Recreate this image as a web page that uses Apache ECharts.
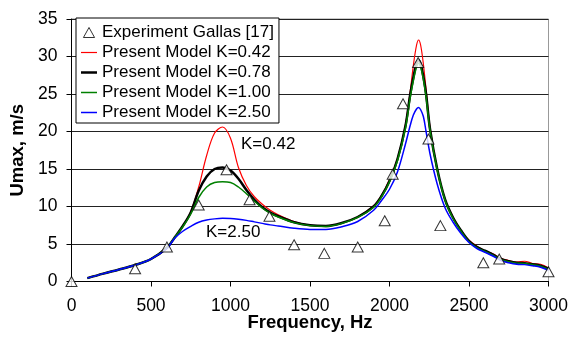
<!DOCTYPE html>
<html>
<head>
<meta charset="utf-8">
<script src="https://cdn.jsdelivr.net/npm/echarts@6/dist/echarts.min.js"></script>
<style>
  html, body { margin: 0; padding: 0; background: #fff; }
  #chart { width: 568px; height: 347px; }
</style>
</head>
<body>
<div id="chart"></div>
<script>
// Frequency grid (Hz) shared by the model curves
const freqHz = [100,200,300,400,500,600,650,700,750,800,850,900,950,1000,
  1050,1100,1150,1200,1250,1300,1400,1500,1600,1700,1800,1900,1950,2000,
  2050,2100,2130,2150,2170,2183,2196,2213,2230,2255,2300,2350,2400,2450,
  2500,2550,2600,2650,2700,2750,2800,2850,2900,2950,3000];

// Present model, Umax (m/s) for each K
const umaxK042 = [0.45,1.05,1.6,2.2,3.0,4.5,5.9,7.4,9.3,12.6,16.8,19.8,20.6,19.1,
  15.2,12.8,11.3,10.3,9.5,8.9,8.0,7.5,7.4,7.8,8.6,10.1,11.5,13.6,
  16.4,20.9,25.3,28.8,31.5,32.2,31.5,29.0,25.6,20.5,15.0,10.9,8.6,6.8,
  5.5,4.7,4.1,3.7,3.1,2.8,2.6,2.7,2.4,2.3,1.8];
const umaxK078 = [0.45,1.05,1.6,2.2,3.0,4.5,5.9,7.4,9.2,12.1,14.0,15.0,15.2,14.8,
  13.7,12.2,10.9,9.9,9.2,8.7,7.9,7.5,7.4,7.8,8.6,10.0,11.4,13.4,
  16.3,20.7,24.9,27.2,29.1,29.5,29.0,27.3,25.0,20.3,15.0,10.9,8.5,6.8,
  5.4,4.6,4.1,3.6,3.0,2.7,2.5,2.45,2.3,2.1,1.7];
const umaxK100 = [0.45,1.05,1.6,2.2,3.0,4.5,5.9,7.3,9.0,11.2,12.6,13.2,13.3,13.2,
  12.6,11.7,10.7,9.8,9.1,8.6,7.85,7.45,7.35,7.75,8.55,9.9,11.3,13.3,
  16.1,20.4,24.5,26.8,28.6,29.1,28.6,27.0,24.6,20.1,14.9,10.8,8.4,6.7,
  5.3,4.5,4.0,3.5,2.95,2.65,2.45,2.4,2.25,2.05,1.65];
const umaxK250 = [0.45,1.05,1.6,2.2,3.0,4.4,5.8,6.7,7.35,7.9,8.2,8.35,8.42,8.4,
  8.3,8.15,7.95,7.75,7.55,7.4,7.1,6.95,6.95,7.3,8.0,9.5,10.8,12.3,
  14.6,18.3,20.8,22.2,23.0,23.2,22.9,22.0,20.0,17.0,13.0,9.8,7.9,6.4,
  5.2,4.4,3.9,3.4,2.8,2.5,2.3,2.25,2.1,1.9,1.5];

// Experiment Gallas [17]
const expFreq = [0,400,600,800,975,1120,1245,1400,1590,1800,1970,2020,2085,2180,2245,2320,2590,2690,3000];
const expUmax = [0,1.7,4.6,10.2,14.9,10.9,8.7,4.9,3.75,4.6,8.1,14.3,23.7,29.2,19.0,7.45,2.5,3.0,1.3];

// Axis ticks
const xTicks = { min: 0, max: 3000, step: 500 };
const yTicks = { min: 0, max: 35, step: 5 };

const FONT = '"Liberation Sans", Arial, sans-serif';
const pairs = (xs, ys) => xs.map((x, i) => [x, ys[i]]);

// Flat bar used as the legend swatch of a model curve
const lineIcon = (h) => 'path://M0,0 L16,0 L16,' + h + ' L0,' + h + ' Z';

function modelSeries(name, values, color, width) {
  return {
    name: name,
    type: 'line',
    data: pairs(freqHz, values),
    smooth: 0.35,
    showSymbol: false,
    symbol: 'none',
    z: 2,
    lineStyle: { color: color, width: width },
    itemStyle: { color: color },
    emphasis: { disabled: true }
  };
}

const chart = echarts.init(document.getElementById('chart'), null, { renderer: 'canvas', devicePixelRatio: 1 });

chart.setOption({
  animation: false,
  backgroundColor: '#fff',
  textStyle: { fontFamily: FONT },
  grid: {
    left: 71.5, right: 19.5, top: 19, bottom: 65.5,
    containLabel: false,
    outerBoundsMode: 'none',
    show: true, borderColor: '#999', borderWidth: 1, backgroundColor: 'transparent'
  },
  legend: {
    orient: 'vertical',
    left: 76, top: 18,
    padding: [6, 5, 2, 5],
    itemWidth: 16, itemHeight: 10, itemGap: 3,
    backgroundColor: '#fff',
    borderColor: '#000', borderWidth: 1, borderRadius: 0,
    symbolKeepAspect: true,
    textStyle: { fontFamily: FONT, fontSize: 17, color: '#000' },
    data: [
      { name: 'Experiment Gallas [17]', icon: 'path://M5,0 L10,9 L0,9 Z',
        itemStyle: { color: '#fff', borderColor: '#000', borderWidth: 1 } },
      { name: 'Present Model K=0.42', icon: lineIcon(1.2), itemStyle: { color: '#ff0000', borderWidth: 0 } },
      { name: 'Present Model K=0.78', icon: lineIcon(2.5), itemStyle: { color: '#000000', borderWidth: 0 } },
      { name: 'Present Model K=1.00', icon: lineIcon(1.5), itemStyle: { color: '#008000', borderWidth: 0 } },
      { name: 'Present Model K=2.50', icon: lineIcon(1.5), itemStyle: { color: '#0000ff', borderWidth: 0 } }
    ]
  },
  xAxis: {
    type: 'value',
    min: xTicks.min, max: xTicks.max, interval: xTicks.step,
    name: 'Frequency, Hz',
    nameLocation: 'middle', nameGap: 32, nameMoveOverlap: false,
    nameTextStyle: { fontFamily: FONT, fontSize: 18.5, fontWeight: 'bold', color: '#000' },
    axisLine: { show: true, lineStyle: { color: '#000', width: 1 } },
    axisTick: { show: true, inside: false, length: 5, lineStyle: { color: '#000' } },
    axisLabel: { margin: 16, fontFamily: FONT, fontSize: 17.5, color: '#000',
      formatter: (v) => String(v) },
    splitLine: { show: false }
  },
  yAxis: {
    type: 'value',
    min: yTicks.min, max: yTicks.max, interval: yTicks.step,
    name: 'Umax, m/s',
    nameLocation: 'middle', nameGap: 44, nameMoveOverlap: false,
    nameTextStyle: { fontFamily: FONT, fontSize: 18.5, fontWeight: 'bold', color: '#000' },
    axisLine: { show: true, lineStyle: { color: '#000', width: 1 } },
    axisTick: { show: true, inside: false, length: 5, lineStyle: { color: '#000' } },
    axisLabel: { margin: 14, fontFamily: FONT, fontSize: 17.5, color: '#000',
      formatter: (v) => String(v) },
    splitLine: { show: true, lineStyle: { color: '#222', width: 1 } }
  },
  graphic: [
    { type: 'text', left: 241, top: 136, z: 10,
      style: { text: 'K=0.42', font: '17px ' + FONT, fill: '#000' } },
    { type: 'text', left: 206, top: 224, z: 10,
      style: { text: 'K=2.50', font: '17px ' + FONT, fill: '#000' } }
  ],
  series: [
    {
      name: 'Experiment Gallas [17]',
      type: 'scatter',
      data: pairs(expFreq, expUmax),
      symbol: 'triangle',
      symbolSize: [11, 10],
      z: 5,
      itemStyle: { color: '#fff', borderColor: '#000', borderWidth: 1 },
      emphasis: { disabled: true }
    },
    modelSeries('Present Model K=0.42', umaxK042, '#ff0000', 1.2),
    modelSeries('Present Model K=0.78', umaxK078, '#000000', 2.5),
    modelSeries('Present Model K=1.00', umaxK100, '#008000', 1.5),
    modelSeries('Present Model K=2.50', umaxK250, '#0000ff', 1.5)
  ]
});
</script>
</body>
</html>
